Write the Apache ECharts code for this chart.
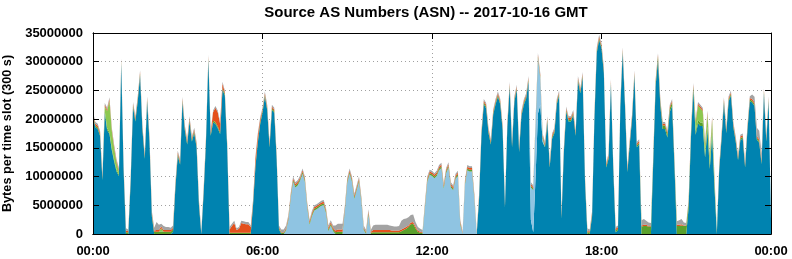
<!DOCTYPE html>
<html><head><meta charset="utf-8">
<script src="https://cdn.jsdelivr.net/npm/echarts@6/dist/echarts.min.js"></script>
<style>html,body{margin:0;padding:0;background:#fff}#c{width:792px;height:259px}</style>
</head><body><div id="c"></div>
<script>
// Time axis tick labels (every 6 hours = 72 slots of 5 minutes / 300 s)
const tickLabels = ['00:00', '06:00', '12:00', '18:00', '00:00'];
const slotsPerTick = 72;
const slotMinutes = 5;

// Values in millions of bytes per 300 s slot, 289 slots (00:00 .. 24:00)
const darkBlue = [
20.4,18.6,18.3,17.1,9.4,21.1,18.1,17.4,14.6,12.6,10.9,10.1,
29.7,11.1,0,0,9.1,22.1,19.6,23.1,27.6,18.1,13.1,23.1,
16.1,3.1,0,0,0,0,0,0,0,0,0.4,8.1,
13.6,12.1,23.0,18.1,15.6,19.6,16.1,17.6,15.1,5.1,0,7.1,
16.1,30.3,17.1,19.4,19.2,18.4,17.4,25.1,24.1,15.1,0,0,
0,0,0,0,0,0,0,0,5.1,11.7,15.9,19.1,
21.1,23.9,21.6,15.1,21.6,21.1,13.1,0.8,0,0,0,0,
0,0,0,0,0,0,0,0,0,0,0,0,
0,0,0,0,0,0,0,0,0,0,0,0,
0,0,0,0,0,0,0,0,0,0,0,0,
0,0,0,0,0,0,0,0,0,0,0,0,
0,0,0,0,0,0,0,0,0,0,0,0,
0,0,0,0,0,0,0,0,0,0,0,0,
0,0,0,0,0,0,0,0,6.1,17.1,22.6,21.9,
17.6,15.6,20.8,22.6,23.9,22.6,18.1,4.6,18.6,25.6,15.1,23.1,
25.1,14.3,20.6,22.5,23.6,26.6,2.5,0.3,10,21,22.5,16,
15.1,19.6,11.6,16.6,17.6,22.6,24.1,2.7,14.1,21.3,19.6,19.6,
20.7,17.1,26.6,24.5,27.3,9.1,0,0,3.1,20.1,31.6,33.8,
32.3,28.1,11.6,13.1,26.1,11.4,0.3,0.6,22.1,31.6,22.1,10.8,
15.6,20.1,27.6,15.1,15.6,0,0,0,0,0,12.8,25.8,
30.3,22.3,18.3,18.3,16.8,21.3,22.3,11.8,0,0,0,0,
0,4.5,16.8,25.1,17.3,19.3,18.8,18.8,13.3,18.1,11.3,17.3,
8.0,0,11.1,16.6,22.9,17.6,23.1,24.1,18.6,16.1,12.9,16.4,
16.6,11.6,18.1,23.1,22.9,22.3,16.4,15.9,12.2,24.5,16.1,23.1,
2.6];

const lightBlue = [
0,0,0,0,0,0,0,0,0,0,0,0,
0,0,0,0,0,0,0,0,0,0,0,0,
0,0,0,0,0,0,0,0,0,0,0,0,
0,0,0,0,0,0,0,0,0,0,0,0,
0,0,0,0,0,0,0,0,0,0,0,0,
0,0,0,0,0,0,0,0,0,0,0,0,
0,0,0,0,0,0,0,0,0,0,0.6,2.4,
6.3,9.1,8.1,8.5,9.3,10.5,9.1,4.6,1.6,3.1,4.1,4.3,
4.6,4.9,5.0,3.6,0.5,1.5,0.5,0,0,0,0,4.1,
8.9,10.5,9.1,6.1,7.6,9.1,5.6,0.7,0,3.4,0,0,
0,0,0,0,0,0,0,0,0,0,0,0,
0,0,0,0,0,0,0,0,0,4.6,9.1,10.3,
10.1,9.7,10.1,11.1,11.5,7.9,10.6,11.6,8.1,7.6,9.6,10.1,
1.6,0,8.6,11.1,10.9,10.9,6.1,0,0,0,0,0,
0,0,0,0,0,0,0,0,0,0,0,0,
0,0,0,0,0,0,5.6,7.3,9.1,9.6,4.6,0.6,
0,0,0,0,0,0,0,0,0,0,0,0,
0,0,0,0,0,0,0,0,0,0,0,0,
0,0,0,0,0,0,0,0,0,0,0,0,
0,0,0,0,0,0,0,0,0,0,0,0,
0,0,0,0,0,0,0,0,0,0,0,0,
0,0,0,0,0,0,0,0,0,0,0,0,
0,0,0,0,0,0,0,0,0,0,0,0,
0,0,0,0,0,0,0,0,0,0,0,0,
0];

const green = [
.3,.3,.3,.3,.3,.3,.3,.3,.3,.3,.3,.3,
.3,.3,.3,.3,.3,.3,.3,.3,.3,.3,.3,.3,
.3,.3,.4,.4,.4,.4,.4,.4,.4,.4,.4,.3,
.3,.3,.3,.3,.3,.3,.3,.3,.3,.3,.1,.3,
.3,.3,.3,.3,.3,.3,.3,.3,.3,.3,.2,.2,
.2,.2,.2,.2,.2,.2,.2,.2,.3,.3,.3,.3,
.3,.3,.3,.3,.3,.3,.3,.2,.2,.2,.2,.3,
.3,.3,.3,.3,.3,.3,.3,.3,.3,.3,.3,.3,
.3,.3,.3,.3,.3,.3,.3,.3,.4,.4,.4,.3,
.3,.3,.3,.3,.3,.3,.3,.2,.2,.3,.2,.3,
.3,.3,.3,.3,.3,.3,.3,.3,.3,.3,.3,.5,
.7,.9,1.2,1.7,1.8,1.0,.4,.2,.2,.3,.3,.3,
.3,.3,.3,.3,.3,.3,.3,.3,.3,.3,.3,.3,
.3,.1,.3,.3,.3,.3,.3,.1,.3,.3,.3,.3,
.3,.3,.3,.3,.3,.3,.3,.3,.3,.3,.3,.3,
.3,.3,.3,.3,.3,.3,.3,.3,.3,.3,.3,.3,
.3,.3,.3,.3,.3,.3,.3,.3,.3,.3,.3,.3,
.3,.3,.3,.3,.3,.3,.3,.3,.3,.3,.3,.3,
.3,.3,.3,.3,.3,.3,.3,.3,.3,.3,.3,.3,
.3,.3,.3,.3,.3,1.3,1.4,1.4,1.3,1.3,.6,.6,
.6,.6,.6,.6,.6,.6,.6,.6,1.4,1.4,1.5,1.4,
1.4,1.0,.6,.6,.6,.6,.6,.6,.6,.6,.6,.6,
.6,.4,.3,.3,.3,.3,.3,.3,.3,.3,.3,.3,
.3,.3,.3,.3,.3,.3,.3,.3,.3,.3,.3,.3,
.3];

const lime = [
0,0,0,0,0,.8,3,5.5,3,2,1.2,.5,
0,0,0,0,0,0,0,0,0,0,0,0,
0,0,0,0,0,.6,0,0,0,0,0,0,
0,0,0,0,0,0,0,0,0,0,0,0,
0,0,0,0,0,0,0,0,0,0,0,0,
0,0,0,0,0,0,0,0,0,0,0,0,
0,0,0,0,0,0,0,0,0,0,0,0,
0,0,0,0,0,0,0,0,0,0,0,0,
0,0,0,0,0,0,0,0,0,0,0,0,
0,0,0,0,0,0,0,0,0,0,0,0,
0,0,0,0,0,0,0,0,0,0,0,0,
0,0,0,0,0,0,0,0,0,0,0,0,
0,0,0,0,0,0,0,0,0,0,0,0,
0,0,0,0,0,0,0,0,0,0,0,0,
0,0,0,0,0,0,0,0,0,0,0,0,
0,0,0,0,0,0,0,0,0,0,0,0,
0,0,0,0,0,0,0,0,0,0,0,0,
0,0,0,0,0,0,0,0,0,0,0,0,
0,0,0,0,0,0,0,0,0,0,0,0,
0,0,0,0,0,0,0,0,0,0,0,0,
0,0,0,0,0,0,0,0,0,0,0,0,
0,0,0,0,1.5,2.5,2.5,2,1.5,2.2,1.5,2,
.8,0,0,0,0,0,0,0,0,0,0,0,
0,0,0,0,0,0,0,0,0,0,0,0,
0];

const orange = [
.3,.3,.3,.3,.3,.3,.3,.3,.3,.3,.3,.3,
.3,.3,.3,.2,.3,.3,.3,.3,.3,.3,.3,.3,
.3,.3,.2,.3,.3,.3,.3,.3,.3,.3,.3,.3,
.3,.3,.3,.3,.3,.3,.3,.3,.3,.3,.1,.3,
.3,.3,.3,1.5,2.5,2.5,1.5,.8,.3,.3,.6,1.2,
1.7,.5,.7,1.7,1.6,1.5,1.5,1.0,.3,1.2,1.0,.6,
.3,.3,.3,.3,.3,.3,.3,.2,.1,.1,.2,.3,
.3,.3,.3,.3,.3,.3,.3,.3,.3,.3,.3,.3,
.3,.3,.3,.3,.3,.3,.3,.3,.4,.4,.4,.3,
.3,.3,.3,.3,.3,.3,.3,.2,.2,.3,.2,.4,
.4,.4,.4,.4,.4,.4,.4,.3,.3,.3,.3,.3,
.3,.3,.3,.3,.3,.3,.2,.2,.1,.3,.3,.3,
.3,.3,.3,.3,.3,.3,.3,.3,.3,.3,.3,.3,
.3,.1,.3,.3,.3,.3,.3,.1,.3,.3,.3,.3,
.3,.3,.3,.3,.3,.3,.3,.3,.3,.3,.3,.3,
.3,.3,.3,.3,.3,.3,.3,.3,.3,.3,.3,.3,
.3,.3,.3,.3,.3,.3,.3,.3,.3,.3,.3,.3,
.3,.3,.3,.3,.3,.3,.2,.2,.3,.3,.3,.3,
.3,.3,.3,.3,.3,.3,.3,.3,.3,.3,.3,.3,
.3,.3,.3,.3,.3,.2,.2,.2,.1,.1,.3,.3,
.3,.3,.3,.3,.3,.3,.3,.3,.2,.2,.2,.1,
.1,.2,.3,.3,.3,.3,.3,.3,.3,.3,.3,.3,
.3,.1,.3,.3,.3,.3,.3,.3,.3,.3,.3,.3,
.3,.3,.3,.3,.3,.3,.3,.3,.3,.3,.3,.3,
.3];

const gray = [
.3,.3,.3,.3,.3,.3,.3,.3,.3,.3,.3,.3,
.3,.3,.4,.3,.3,.3,.3,.3,.3,.3,.3,.3,
.3,.3,.5,1.4,.9,.5,.7,.5,.5,.4,.4,.3,
.3,.3,.3,.3,.3,.3,.3,.3,.3,.3,.2,.3,
.3,.3,.3,.3,.3,.3,.3,.3,.3,.3,.4,.4,
.4,.3,.3,.4,.4,.4,.4,.3,.3,.3,.3,.3,
.3,.3,.3,.3,.3,.3,.3,.3,.5,.5,.5,.3,
.3,.3,.3,.3,.3,.3,.3,.3,.3,.3,.3,.3,
.3,.3,.3,.3,.4,.3,.4,.9,1.0,1.0,1.0,.3,
.3,.3,.3,.3,.3,.3,.3,.4,.3,.3,.3,.8,
.9,.9,.9,.9,.9,.9,.8,.8,.7,.7,.8,1.5,
1.6,1.5,1.4,1.3,1.3,.8,.6,.5,.4,.3,.3,.3,
.3,.3,.3,.3,.3,.3,.3,.3,.3,.3,.3,.3,
.3,.3,.3,.3,.3,.3,.3,.2,.3,.3,.3,.3,
.3,.3,.3,.3,.3,.3,.3,.3,.3,.3,.3,.3,
.3,.3,.3,.3,.3,.3,.3,.3,.3,.3,.3,.3,
.3,.3,.3,.3,.3,.3,.3,.3,.3,.3,.3,.3,
.3,.3,.3,.3,.3,.3,.5,.3,.3,.3,.3,.3,
.3,.3,.3,.3,.3,.3,.3,.3,.3,.3,.3,.3,
.3,.3,.3,.3,.3,.9,1.0,.7,.6,.5,.3,.3,
.3,.3,.3,.3,.3,.3,.3,.3,.6,.8,.9,.5,
.4,.3,.3,.3,.3,.3,.3,.3,.3,.3,.3,.3,
.3,.3,.3,.3,.3,.3,.3,.3,.3,.3,.3,.3,
.3,.3,.3,.3,.8,1.0,1.5,1.5,1.2,.3,.3,.3,
.3];

const layers = [
  { name: 'AS 1', values: darkBlue,  color: '#0083b0' },
  { name: 'AS 2', values: lightBlue, color: '#8fc4e2' },
  { name: 'AS 3', values: green,     color: '#5aa02c' },
  { name: 'AS 4', values: lime,      color: '#8cc850' },
  { name: 'AS 5', values: orange,    color: '#e4501c' },
  { name: 'AS 6', values: gray,      color: '#a3a3a3' }
];

// slot categories (time of day of each 5-minute slot)
const slots = darkBlue.map((_, i) => {
  const m = i * slotMinutes, h = Math.floor(m / 60) % 24, mm = m % 60;
  return (h < 10 ? '0' : '') + h + ':' + (mm < 10 ? '0' : '') + mm;
});
const isTick = (i) => i % slotsPerTick === 0;

const font = '"Liberation Sans", Arial, sans-serif';
const lbl = { fontFamily: font, fontSize: 13, fontWeight: 'bold', color: '#000' };

const series = layers.map(l => ({
  name: l.name, type: 'line', stack: 'total', symbol: 'none', showSymbol: false,
  lineStyle: { width: 0 }, areaStyle: { color: l.color, opacity: 1 },
  itemStyle: { color: l.color },
  data: l.values.map(v => v * 1e6)
}));

const baseX = { type: 'category', data: slots, boundaryGap: false };
const baseY = { type: 'value', min: 0, max: 35e6, interval: 5e6 };

const chart = echarts.init(document.getElementById('c'), null, { renderer: 'canvas' });
chart.setOption({
  animation: false,
  title: { text: 'Source AS Numbers (ASN) -- 2017-10-16 GMT', left: 421, top: 0, textAlign: 'center',
           textStyle: Object.assign({}, lbl, { fontSize: 15 }) },
  grid: { left: 93, right: 21, top: 33, bottom: 25, containLabel: false, outerBoundsMode: 'none' },
  xAxis: [
    Object.assign({}, baseX, {
      axisLine: { show: true, onZero: false, lineStyle: { color: '#000' } },
      axisTick: { show: false },
      axisLabel: Object.assign({ margin: 11, interval: (i) => isTick(i),
                   formatter: (v, i) => tickLabels[i / slotsPerTick] }, lbl),
      splitLine: { show: true, interval: (i) => isTick(i),
                   lineStyle: { color: '#a0a0a0', type: [1, 3], width: 1 } } }),
    Object.assign({}, baseX, { position: 'top', z: 5,
      axisLine: { show: true, onZero: false, lineStyle: { color: '#000' } },
      axisTick: { show: true, inside: true, length: 6, interval: (i) => isTick(i), lineStyle: { color: '#000' } },
      axisLabel: { show: false }, splitLine: { show: false } }),
    Object.assign({}, baseX, { position: 'bottom', z: 5,
      axisLine: { show: true, onZero: false, lineStyle: { color: '#000' } },
      axisTick: { show: false }, axisLabel: { show: false }, splitLine: { show: false } })
  ],
  yAxis: [
    Object.assign({}, baseY, { position: 'left',
      name: 'Bytes per time slot (300 s)', nameLocation: 'middle', nameGap: 75,
      nameTextStyle: Object.assign({}, lbl, { fontSize: 12.7 }),
      axisLine: { show: true, onZero: false, lineStyle: { color: '#000' } },
      axisTick: { show: false },
      axisLabel: Object.assign({ margin: 10, formatter: v => String(v) }, lbl),
      splitLine: { show: true, lineStyle: { color: '#a0a0a0', type: [1, 3], width: 1 } } }),
    Object.assign({}, baseY, { position: 'right', z: 5,
      axisLine: { show: true, onZero: false, lineStyle: { color: '#000' } },
      axisTick: { show: true, inside: true, length: 6, lineStyle: { color: '#000' } },
      axisLabel: { show: false }, splitLine: { show: false } }),
    Object.assign({}, baseY, { position: 'left', offset: 0, z: 5,
      axisLine: { show: true, onZero: false, lineStyle: { color: '#000' } },
      axisTick: { show: true, inside: true, length: 6, lineStyle: { color: '#000' } },
      axisLabel: { show: false }, splitLine: { show: false } })
  ],
  series: series
});
</script></body></html>
